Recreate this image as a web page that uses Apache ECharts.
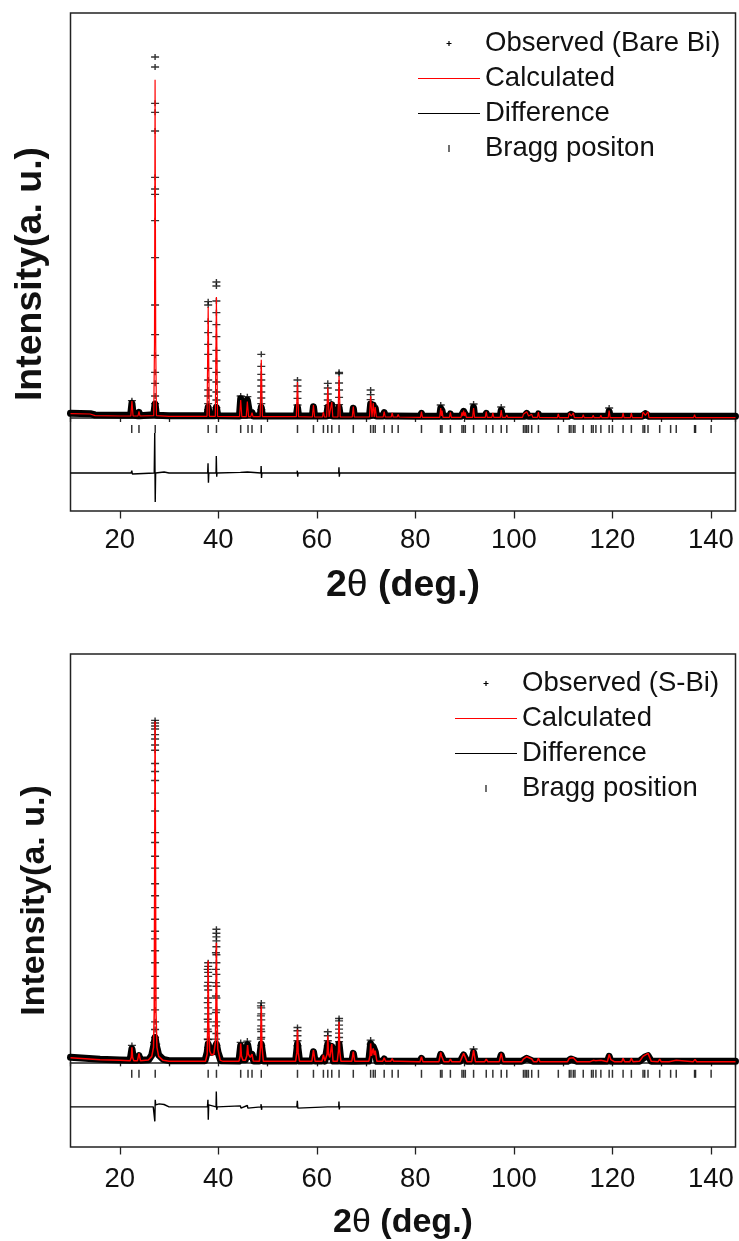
<!DOCTYPE html>
<html><head><meta charset="utf-8">
<script src="https://cdn.jsdelivr.net/npm/echarts@6/dist/echarts.min.js"></script>
<style>html,body{margin:0;padding:0;background:#fff}#c{width:739px;height:1241px}</style>
</head><body><div id="c"></div>
<script>
// ---------------- data ----------------
const xTickLabels = [20, 40, 60, 80, 100, 120, 140];

const braggPositions = [22.43, 23.9, 27.2, 37.95, 39.63, 44.55, 46.04, 46.85, 48.73, 56.08, 59.32, 61.34, 62.23, 63.04, 64.52, 67.41, 70.93, 71.46, 71.86, 73.68, 75.3, 76.52, 81.25, 85.12, 85.42, 87.12, 89.47, 89.81, 90.15, 91.83, 94.4, 95.74, 97.44, 98.57, 101.95, 102.29, 102.62, 102.96, 103.63, 104.99, 109.03, 111.26, 111.6, 112.07, 112.41, 114.09, 115.77, 116.11, 116.66, 117.67, 119.35, 120.02, 122.18, 123.86, 126.23, 126.57, 127.24, 129.61, 131.83, 132.97, 136.69, 136.89, 140.05];

// Bare Bi
const calcBareBi = [
[10,13],[14,12],[15,7],[20,6],
[22.25,6],[22.47,51],[22.7,6],
[23.7,6],[23.9,20],[24.1,6],
[26.9,7],[27.05,220],[27.17,1015],[27.3,220],[27.45,7],
[30,5],
[37.72,5],[37.95,333],[38.18,5],
[39.4,5],[39.62,363],[39.85,5],
[44.32,4],[44.55,54],[44.78,4],
[45.68,4],[45.9,49],[46.15,4],[46.6,4],[46.85,16],[47.05,4],
[48.5,4],[48.73,175],[48.96,4],
[55.85,4],[56.08,108],[56.3,4],
[59.1,3],[59.32,39],[59.55,3],
[61.15,3],[61.34,18],[61.55,3],
[62.0,3],[62.23,92],[62.5,3],[62.85,3],[63.04,48],[63.25,3],
[64.3,3],[64.52,126],[64.75,3],
[67.2,3],[67.41,34],[67.62,3],
[70.7,3],[70.93,66],[71.2,3],[71.46,45],[71.66,3],[71.86,33],[72.1,3],
[73.48,3],[73.68,19],[73.9,3],
[75.1,3],[75.3,15],[75.5,3],
[76.32,3],[76.52,11],[76.72,3],
[81.05,2],[81.25,19],[81.45,2],
[84.95,2],[85.16,30],[85.3,6],[85.42,22],[85.62,2],
[86.92,2],[87.12,17],[87.32,2],
[89.27,2],[89.47,17],[89.64,6],[89.81,22],[89.98,6],[90.15,17],[90.35,2],
[91.63,2],[91.83,30],[92.03,2],
[94.2,2],[94.4,19],[94.6,2],
[95.54,2],[95.74,15],[95.94,2],
[97.24,2],[97.44,24],[97.64,2],
[98.37,2],[98.57,9],[98.77,2],
[101.75,2],[101.95,11],[102.2,5],[102.62,19],[103,6],[103.63,11],[103.85,2],
[104.79,2],[104.99,18],[105.19,2],
[108.83,1],[109.03,12],[109.23,1],
[111.06,1],[111.26,15],[111.65,6],[112.07,15],[112.3,1],
[113.89,1],[114.09,10],[114.29,1],
[115.9,1],[116.11,8],[116.3,1],[117.47,1],[117.67,8],[117.87,1],
[119.15,1],[119.35,22],[119.55,1],
[121.98,1],[122.18,15],[122.38,1],
[123.66,1],[123.86,15],[124.06,1],
[126.03,1],[126.23,18],[126.7,8],[127.24,19],[127.45,1],
[129.41,1],[129.61,7],[129.81,1],
[131.63,1],[131.83,6],[132.03,1],
[136.49,1],[136.69,10],[136.89,1],
[139.85,1],[140.05,6],[140.25,1],
[145,1]
];
const obsBandBareBi = [
[10,14],[14,13],[15,9],[20,8],
[22.2,8],[22.47,44],[22.75,8],
[23.7,7],[23.9,17],[24.1,7],
[26.9,10],[27.17,42],[27.45,8],
[30,7],
[37.7,7],[37.95,32],[38.2,7],
[39.35,7],[39.62,32],[39.9,7],
[44.3,6],[44.55,58],[44.8,8],[45.6,8],[45.9,54],[46.4,10],[46.85,16],[47.1,6],
[48.5,6],[48.73,32],[48.96,6],
[55.85,6],[56.08,32],[56.3,6],
[59.1,6],[59.32,34],[59.55,6],
[61.15,6],[61.34,12],[61.55,6],
[62.0,6],[62.23,32],[62.5,8],[62.85,8],[63.04,40],[63.25,6],
[64.3,6],[64.52,32],[64.75,6],
[67.2,6],[67.41,29],[67.62,6],
[70.7,6],[70.93,42],[71.2,8],[71.46,39],[71.66,12],[71.86,30],[72.1,6],
[73.48,6],[73.68,16],[73.9,6],
[75.1,6],[75.3,12],[75.5,6],
[81.05,5],[81.25,14],[81.45,5],
[84.95,5],[85.16,29],[85.42,22],[85.62,5],
[86.92,5],[87.12,12],[87.32,5],
[89.27,5],[89.81,20],[90.35,5],
[91.63,5],[91.83,32],[92.03,5],
[94.2,5],[94.4,14],[94.6,5],
[97.24,5],[97.44,23],[97.64,5],
[102.2,5],[102.62,14],[103,5],
[104.79,5],[104.99,12],[105.19,5],
[111.06,5],[111.6,11],[112.3,5],
[119.15,5],[119.35,20],[119.55,5],
[126.03,5],[126.7,13],[127.45,5],
[145,5]
];
const obsPeaksBareBi = [
[22.47,[52]],
[27.17,[1083,1053,944,917,861,722,687,671,592,481,339,250,188,137,104,66,43]],
[37.95,[349,339,290,256,221,191,149,114,84,66,43,25]],
[39.62,[408,396,351,316,280,244,203,171,137,108,78,54,31]],
[44.55,[66]],
[45.9,[64]],
[48.73,[191,155,131,114,96,78,60,43,25]],
[56.08,[114,96,79,59,39]],
[62.23,[104,90,72,54,37]],
[64.52,[137,133,105,84,62,40]],
[70.93,[84,70,55]],
[85.16,[39]],
[91.83,[42]],
[97.44,[33]],
[119.35,[30]]
];
const diffBareBi = [
[10,-165],[22.3,-165],[22.45,-158],[22.55,-168],[22.7,-165],
[27.0,-165],[27.1,-45],[27.2,-252],[27.28,-165],[27.5,-161],[29,-162],[30,-165],
[37.85,-165],[37.92,-136],[38.0,-194],[38.08,-165],
[39.55,-165],[39.6,-114],[39.68,-176],[39.75,-165],
[44.5,-163],[44.6,-168],[45.9,-162],[46,-168],
[48.65,-165],[48.7,-144],[48.78,-180],[48.85,-165],
[56.0,-165],[56.05,-158],[56.12,-176],[56.2,-165],
[62.15,-165],[62.2,-159],[62.27,-171],[62.35,-165],
[64.45,-165],[64.5,-148],[64.57,-176],[64.65,-165],
[70.85,-165],[70.9,-159],[70.98,-171],[71.05,-165],
[85.1,-165],[85.15,-160],[85.22,-169],[85.3,-165],
[91.75,-165],[91.8,-161],[91.88,-171],[91.95,-165],
[119.3,-165],[119.35,-161],[119.42,-168],[119.5,-165],
[127.2,-165],[127.25,-161],[127.3,-168],[127.4,-165],
[145,-165]
];

// S-Bi
const calcSBi = [
[10,14],[13,11],[16,8],[20,6],
[22.1,5],[22.35,15],[22.47,45],[22.6,15],[22.85,5],
[23.6,5],[23.9,27],[24.2,5],
[25.8,7],[26.5,18],[26.85,45],[27.0,150],[27.1,600],[27.17,1027],[27.25,600],[27.35,150],[27.55,45],[27.9,18],[28.8,6],
[30,3],
[37.4,3],[37.75,25],[37.87,120],[37.95,306],[38.05,120],[38.25,35],[38.6,22],[39.1,25],[39.4,60],[39.52,170],[39.62,360],[39.72,170],[39.9,40],[40.4,6],[41,3],
[44.2,3],[44.45,20],[44.55,57],[44.7,20],[45.0,6],
[45.5,6],[45.8,20],[45.95,52],[46.1,25],[46.5,15],[46.85,25],[47.1,4],
[48.35,3],[48.6,50],[48.73,170],[48.86,50],[49.15,3],
[55.7,3],[55.95,30],[56.08,99],[56.22,30],[56.5,3],
[59.0,3],[59.32,37],[59.65,3],
[61.05,3],[61.34,22],[61.65,4],
[61.9,4],[62.1,25],[62.23,81],[62.37,25],[62.65,15],[63.04,55],[63.3,3],
[64.15,3],[64.4,35],[64.52,122],[64.65,35],[64.9,3],
[67.1,3],[67.41,32],[67.7,3],
[70.55,3],[70.8,20],[70.93,57],[71.1,20],[71.3,25],[71.46,42],[71.66,22],[71.86,35],[72.2,3],
[73.4,3],[73.68,14],[73.95,3],
[75.0,3],[75.3,11],[75.6,3],
[76.3,3],[76.52,7],[76.75,3],
[80.95,2],[81.25,17],[81.55,2],
[84.8,2],[85.16,30],[85.3,20],[85.42,25],[85.8,2],
[86.85,2],[87.12,10],[87.4,2],
[89.1,2],[89.47,15],[89.81,27],[90.15,15],[90.5,2],
[91.45,2],[91.83,37],[92.2,2],
[94.1,2],[94.4,10],[94.7,2],
[95.45,2],[95.74,8],[96.05,2],
[97.05,2],[97.44,27],[97.8,2],
[98.3,2],[98.57,6],[98.85,2],
[101.6,2],[101.95,10],[102.3,14],[102.62,17],[102.96,12],[103.63,10],[104.0,2],
[104.7,2],[104.99,12],[105.3,2],
[108.7,2],[109.03,8],[109.35,2],
[110.9,2],[111.26,12],[111.6,15],[112.07,14],[112.41,10],[112.8,2],
[113.8,2],[114.09,8],[114.4,2],
[115.5,2],[116.11,6],[116.66,5],[117.67,6],[118.0,2],
[119.0,2],[119.35,24],[119.7,8],[120.02,10],[120.4,2],
[121.9,2],[122.18,12],[122.5,2],
[123.55,2],[123.86,12],[124.2,2],
[125.5,3],[126.23,18],[126.57,22],[127.24,27],[127.9,3],
[129.3,2],[129.61,10],[129.9,2],
[131.5,2],[131.83,6],[132.97,6],[133.3,2],
[136.4,2],[136.79,9],[137.1,2],
[139.75,2],[140.05,6],[140.35,2],
[145,2]
];
const obsBandSBi = [
[10,15],[13,12],[16,9],[20,7],
[22.1,6],[22.47,41],[22.85,6],
[23.6,6],[23.9,20],[24.2,6],
[25.9,8],[26.5,22],[26.9,50],[27.17,75],[27.45,50],[27.9,22],[28.8,9],[30,5],
[37.3,5],[37.75,30],[37.95,55],[38.2,40],[38.6,30],[39.1,32],[39.62,55],[39.95,30],[40.5,5],
[44.2,4],[44.55,50],[44.9,8],[45.5,8],[45.95,54],[46.4,18],[46.85,24],[47.2,4],
[48.3,4],[48.73,55],[49.2,4],
[55.7,4],[56.08,55],[56.5,4],
[59.0,4],[59.32,32],[59.65,4],
[61.05,4],[61.34,14],[61.65,4],
[61.9,4],[62.23,55],[62.6,18],[63.04,48],[63.35,4],
[64.15,4],[64.52,55],[64.9,4],
[67.1,3],[67.41,27],[67.7,3],
[70.55,4],[70.93,57],[71.2,28],[71.46,47],[71.86,32],[72.2,3],
[73.4,3],[73.68,10],[73.95,3],
[75,3],[75.3,8],[75.6,3],
[80.95,3],[81.25,12],[81.55,3],
[84.8,3],[85.16,24],[85.42,20],[85.8,3],
[89.1,3],[89.81,22],[90.5,3],
[91.45,3],[91.83,30],[92.2,3],
[97.05,3],[97.44,22],[97.8,3],
[101.6,3],[102.62,12],[104,3],
[110.9,3],[111.6,10],[112.8,3],
[119,3],[119.35,18],[119.7,3],
[125.5,3],[126.6,16],[127.24,20],[127.9,3],
[145,3]
];
const obsPeaksSBi = [
[22.47,[51]],
[27.17,[1030,1022,1013,1004,987,974,956,940,900,876,849,811,757,692,662,621,585,538,502,466,431,395,372,336,300,259,223,194,158,122,99,75]],
[26.95,[60,45]],
[27.4,[55,40]],
[37.95,[300,289,271,259,241,218,194,164,146,122,93,69,45]],
[37.85,[280,230,180,130,100,70]],
[39.62,[401,389,378,366,348,324,300,265,229,194,158,122,87,51]],
[39.52,[330,280,240,200,150,110,70]],
[44.55,[60]],
[45.9,[64]],
[48.73,[179,164,146,128,110,93,75,51]],
[48.65,[170,140,100,70]],
[56.08,[105,95,80,65,50]],
[62.23,[92,80,65,50]],
[64.52,[132,125,112,100,88,75,62]],
[70.93,[67,55]],
[91.83,[40]]
];
const diffSBi = [
[10,-134],[22.3,-134],[22.45,-140],[22.55,-130],[22.7,-134],
[26.8,-134],[27.05,-140],[27.12,-178],[27.2,-113],[27.3,-128],[28,-125],[29,-127],[30,-134],
[37.8,-134],[37.9,-113],[37.97,-173],[38.05,-128],[38.3,-134],
[39.55,-134],[39.6,-88],[39.68,-143],[39.8,-134],
[44.5,-131],[44.6,-138],[45.9,-130],[46.0,-138],
[48.65,-134],[48.7,-126],[48.78,-143],[48.85,-134],
[55.95,-134],[56.05,-116],[56.15,-138],[56.25,-134],
[62.15,-134],[62.2,-128],[62.27,-140],[62.35,-134],
[64.45,-134],[64.5,-118],[64.57,-142],[64.65,-134],
[70.85,-134],[70.9,-128],[70.98,-138],[71.05,-134],
[145,-134]
];

// ---------------- chart ----------------
const FONT = '"Liberation Sans", Arial, Helvetica, sans-serif';
const CROSS = 'path://M3.3,0h1.4v2.3h3.3v1.4h-3.3v2.3h-1.4v-2.3h-3.3v-1.4h3.3z';
const LEG_CROSS = 'path://M0,0h0.01v0.01h-0.01zM61.99,7.99h0.01v0.01h-0.01zM30.4,1.5h1.2v5h-1.2zM28.5,3.4h5v1.2h-5z';
const LEG_LINE = 'path://M0,3.4h62v1.2h-62z';
const LEG_BAR = 'path://M0,0h0.01v0.01h-0.01zM61.99,7.99h0.01v0.01h-0.01zM30.3,0.5h1.4v7h-1.4z';

function peakPoints(tbl) { const out = []; tbl.forEach(([x, ys]) => ys.forEach(y => out.push([x, y]))); return out; }

const panels = [
  { obsName: 'Observed (Bare Bi)', braggName: 'Bragg positon', calc: calcBareBi, band: obsBandBareBi, peaks: obsPeaksBareBi, diff: diffBareBi,
    yMin: -279, yMax: 1215, braggRow: -33, top: 13, height: 498, titleSize: 37.5, xNameGap: 56, labelMargin: 15.5, yNameGap: 21, yPad: [0, 24, 0, 0],
    legLeft: 418, legTop: 29.5, calcWidth: 1.2 },
  { obsName: 'Observed (S-Bi)', braggName: 'Bragg position', calc: calcSBi, band: obsBandSBi, peaks: obsPeaksSBi, diff: diffSBi,
    yMin: -255, yMax: 1230, braggRow: -34.5, top: 654, height: 495, titleSize: 34, xNameGap: 59, labelMargin: 18, yNameGap: 19, yPad: [0, 0, 0, 0],
    legLeft: 455, legTop: 669.5, calcWidth: 1.5 }
];

const option = { animation: false, backgroundColor: '#fff', grid: [], xAxis: [], yAxis: [], series: [], legend: [] };

panels.forEach((p, g) => {
  option.grid.push({ left: 70.5, right: 3.5, top: p.top, height: p.height, show: true, borderColor: '#222', borderWidth: 1.5, backgroundColor: 'transparent' });
  option.xAxis.push({
    type: 'value', gridIndex: g, position: 'bottom', min: 10, max: 145, interval: 10,
    axisLine: { show: true, lineStyle: { color: '#222', width: 1.5 } },
    axisTick: { show: true, length: 4, lineStyle: { color: '#222', width: 1.3 } },
    axisLabel: { margin: p.labelMargin, fontSize: 27.5, color: '#111', fontFamily: FONT, formatter: v => xTickLabels.includes(v) ? String(v) : '' },
    splitLine: { show: false },
    name: '2{t|θ} (deg.)', nameLocation: 'middle', nameGap: p.xNameGap,
    nameTextStyle: { fontSize: p.titleSize, fontWeight: 'bold', fontFamily: FONT, color: '#111',
      rich: { t: { fontSize: p.titleSize, fontWeight: 'normal', fontFamily: FONT, color: '#111' } } }
  });
  option.xAxis.push({
    type: 'value', gridIndex: g, position: 'bottom', min: 10, max: 145, splitNumber: 7,
    axisLine: { show: false },
    axisTick: { show: true, length: 7.5, customValues: xTickLabels, lineStyle: { color: '#222', width: 1.3 } },
    axisLabel: { show: false }, splitLine: { show: false }
  });
  option.yAxis.push({
    type: 'value', gridIndex: g, min: p.yMin, max: p.yMax,
    axisLine: { show: false }, axisTick: { show: false }, axisLabel: { show: false }, splitLine: { show: false },
    name: 'Intensity(a. u.)', nameLocation: 'middle', nameRotate: 90, nameGap: p.yNameGap,
    nameTextStyle: { fontSize: p.titleSize, fontWeight: 'bold', fontFamily: FONT, color: '#111', padding: p.yPad }
  });
  const xi = g * 2, yi = g;
  option.series.push(
    { name: p.obsName, type: 'line', xAxisIndex: xi, yAxisIndex: yi, data: p.band, symbol: 'none', silent: true,
      lineStyle: { color: '#000', width: 7, join: 'round', cap: 'round' }, color: '#000' },
    { name: p.obsName, type: 'scatter', xAxisIndex: xi, yAxisIndex: yi, data: peakPoints(p.peaks), symbol: CROSS, symbolSize: [8, 6], silent: true,
      itemStyle: { color: '#000' } },
    { name: 'Calculated', type: 'line', xAxisIndex: xi, yAxisIndex: yi, data: p.calc, symbol: 'none', silent: true,
      lineStyle: { color: '#ff0000', width: p.calcWidth }, color: '#ff0000' },
    { name: 'Difference', type: 'line', xAxisIndex: xi, yAxisIndex: yi, data: p.diff, symbol: 'none', silent: true,
      lineStyle: { color: '#000', width: 1.4 }, color: '#000' },
    { name: p.braggName, type: 'scatter', xAxisIndex: xi, yAxisIndex: yi, data: braggPositions.map(x => [x, p.braggRow]),
      symbol: 'rect', symbolSize: [1.5, 8], silent: true, itemStyle: { color: '#000' } }
  );
  option.legend.push({
    left: p.legLeft, top: p.legTop, orient: 'vertical', itemWidth: 62, itemHeight: 8, itemGap: 7, padding: 0,
    selectedMode: false,
    textStyle: { fontSize: 27.5, fontFamily: FONT, color: '#111', lineHeight: 27 },
    data: [
      { name: p.obsName, icon: LEG_CROSS, itemStyle: { color: '#000', borderWidth: 0 } },
      { name: 'Calculated', icon: LEG_LINE, itemStyle: { color: '#ff0000', borderWidth: 0 } },
      { name: 'Difference', icon: LEG_LINE, itemStyle: { color: '#000', borderWidth: 0 } },
      { name: p.braggName, icon: LEG_BAR, itemStyle: { color: '#000', borderWidth: 0 } }
    ]
  });
});

const chart = echarts.init(document.getElementById('c'), null, { renderer: 'canvas' });
chart.setOption(option);
</script>
</body></html>
